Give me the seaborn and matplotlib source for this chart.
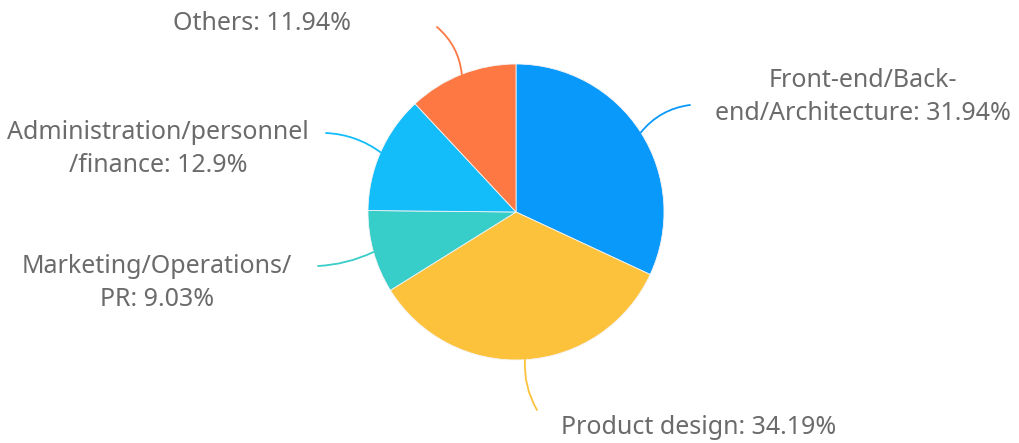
import matplotlib
matplotlib.use("Agg")
import matplotlib.pyplot as plt
import numpy as np
import seaborn as sns

# Share of respondents by job function
categories = [
    "Front-end/Back-\nend/Architecture",
    "Product design",
    "Marketing/Operations/\nPR",
    "Administration/personnel\n/finance",
    "Others",
]
shares = [31.94, 34.19, 9.03, 12.9, 11.94]
colors = ["#0899fb", "#fcc23c", "#37cdc8", "#12bdf9", "#fd7843"]

sns.set_theme(style="white")
plt.rcParams["font.family"] = ["Noto Sans", "DejaVu Sans"]

W, H = 1020, 443
fig = plt.figure(figsize=(W / 100, H / 100), dpi=100)
ax = fig.add_axes([0, 0, 1, 1])

cx, cy, r = 516, H - 212, 148
wedges, _ = ax.pie(
    shares,
    colors=colors,
    startangle=90,
    counterclock=False,
    radius=r,
    center=(cx, cy),
    frame=True,
    wedgeprops=dict(edgecolor="#f4f4f4", linewidth=0.6),
)
ax.set_xlim(0, W)
ax.set_ylim(0, H)
ax.set_aspect("equal")
ax.axis("off")

# leader-line end and label centre, measured from the top-left corner
layout = [
    dict(end=(690, 105), text=(863, 97), rad=-0.2),
    dict(end=(537, 410), text=(699, 428), rad=0.15),
    dict(end=(318, 266), text=(157, 283), rad=-0.1),
    dict(end=(326, 133), text=(158, 149), rad=0.15),
    dict(end=(437, 27), text=(262, 23), rad=0.2),
]

for w, name, val, lay, col in zip(wedges, categories, shares, layout, colors):
    mid = np.deg2rad((w.theta1 + w.theta2) / 2)
    sx, sy = cx + r * np.cos(mid), cy + r * np.sin(mid)
    ex, ey = lay["end"]
    ax.annotate(
        "",
        xy=(ex, H - ey),
        xytext=(sx, sy),
        arrowprops=dict(arrowstyle="-", color=col, lw=1.3,
                        connectionstyle=f"arc3,rad={lay['rad']}",
                        shrinkA=0, shrinkB=0),
    )
    tx, ty = lay["text"]
    ax.text(tx, H - ty, f"{name}: {val:g}%", ha="center", va="center",
            fontsize=18, color="#6b6b6b", linespacing=1.42)

fig.savefig("out.png", dpi=100, facecolor="white")
